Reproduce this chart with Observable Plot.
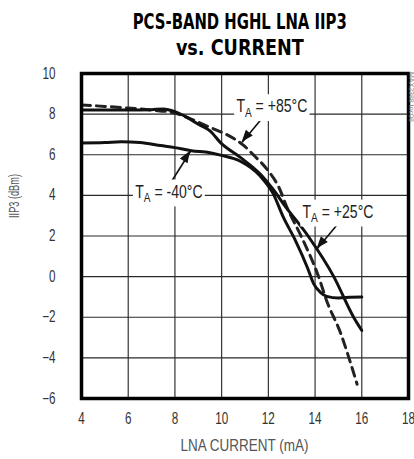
<!DOCTYPE html>
<html><head><meta charset="utf-8">
<script src="https://cdn.jsdelivr.net/npm/d3@7"></script>
<script src="https://cdn.jsdelivr.net/npm/@observablehq/plot@0.6"></script>
<style>
html,body{margin:0;padding:0;background:#fff;}
body{width:414px;height:459px;overflow:hidden;position:relative;}
.tl{position:absolute;left:33px;width:414px;height:20px;text-align:center;white-space:nowrap;
 font-family:"DejaVu Sans Condensed","Liberation Sans",sans-serif;font-weight:bold;font-size:22px;line-height:20px;color:#000;}
.tl span{display:inline-block;transform-origin:50% 50%;line-height:20px;}
#chart{position:absolute;left:0;top:60px;}
</style></head>
<body>
<div class="tl" id="t1" style="top:12px"><span>PCS-BAND HGHL LNA IIP3</span></div>
<div class="tl" id="t2" style="top:38px"><span>vs. CURRENT</span></div>
<div id="chart"></div>
<script>
// ---- data ----
const xTicks = [4, 6, 8, 10, 12, 14, 16, 18];
const yTicks = [-6, -4, -2, 0, 2, 4, 6, 8, 10];

const currentM40 = [4, 5, 5.7, 6.5, 7.4, 8.0, 8.7, 9.5, 9.95, 10.8, 11.65, 12.2, 12.65, 13.15, 13.67, 13.93, 14.25, 14.5, 15.0, 15.5, 16.0];
const iip3M40    = [6.58, 6.6, 6.64, 6.6, 6.45, 6.35, 6.2, 6.1, 5.98, 5.68, 4.95, 4.1, 2.9, 1.8, 0.45, -0.33, -0.8, -0.97, -1.05, -1.02, -1.0];

const currentP25 = [4, 5, 6, 7, 7.5, 8, 8.5, 9, 9.5, 9.95, 10.8, 11.65, 12.2, 12.7, 13.7, 14.8, 15.65, 16.0];
const iip3P25    = [8.2, 8.2, 8.2, 8.22, 8.25, 8.12, 7.85, 7.5, 7.18, 6.6, 5.87, 5.05, 4.3, 3.5, 2.0, 0.0, -2.0, -2.65];

const currentP85 = [4, 5, 6, 7, 8, 8.7, 9.5, 10.2, 10.9, 11.4, 12.0, 12.45, 12.8, 13.4, 14.15, 14.5, 15.1, 15.45, 15.8];
const iip3P85    = [8.45, 8.38, 8.3, 8.2, 8.05, 7.75, 7.35, 7.0, 6.5, 5.95, 5.2, 4.4, 3.4, 2.0, 0.0, -1.2, -2.8, -4.0, -5.3];

const labelNames = ["-40°C", "+85°C", "+25°C"];
const labelX = [7.74, 12.15, 14.98];
const labelY = [4.19, 8.39, 3.2];
const arrowFromX = [7.88, 11.75, 15.0];
const arrowFromY = [4.73, 7.82, 2.63];
const arrowToX = [8.67, 10.88, 14.09];
const arrowToY = [6.17, 6.61, 1.37];

const xLabel = "LNA CURRENT (mA)";
const yLabel = "IIP3 (dBm)";
const sideNote = "MAX2388 toc08";

// ---- build ----
const toRows = (xs, ys) => xs.map((x, i) => ({x, y: ys[i]}));
const m40 = toRows(currentM40, iip3M40);
const p25 = toRows(currentP25, iip3P25);
const p85 = toRows(currentP85, iip3P85);
const labels = labelNames.map((t, i) => ({t, x: labelX[i], y: labelY[i]}));
const arrows = labelNames.map((t, i) => ({x1: arrowFromX[i], y1: arrowFromY[i], x2: arrowToX[i], y2: arrowToY[i]}));

const FONT = '"Liberation Sans",Arial,sans-serif';

const plot = Plot.plot({
  width: 414, height: 399,
  marginTop: 13, marginBottom: 61, marginLeft: 81, marginRight: 6,
  x: {domain: [4, 18], ticks: xTicks, label: null},
  y: {domain: [-6, 10], ticks: yTicks, label: null},
  style: {fontFamily: FONT, fontSize: "16px", color: "#333", background: "white"},
  marks: [
    Plot.gridX(xTicks, {stroke: "#2a2a2a", strokeOpacity: 1, strokeWidth: 1.15}),
    Plot.gridY(yTicks, {stroke: "#2a2a2a", strokeOpacity: 1, strokeWidth: 1.15}),
    Plot.axisX(xTicks, {tickSize: 0, tickPadding: 14, label: null, fontSize: 16, fill: "#333"}),
    Plot.axisY(yTicks, {tickSize: 0, tickPadding: 26, label: null, fontSize: 16, fill: "#333"}),
    Plot.line(p85, {x: "x", y: "y", stroke: "#222", strokeWidth: 3, strokeDasharray: "9,6", curve: "monotone-x"}),
    Plot.line(p25, {x: "x", y: "y", stroke: "#111", strokeWidth: 3, curve: "monotone-x"}),
    Plot.line(m40, {x: "x", y: "y", stroke: "#111", strokeWidth: 3, curve: "monotone-x"}),
    Plot.link(arrows, {x1: "x1", y1: "y1", x2: "x2", y2: "y2", stroke: "#111", strokeWidth: 1.6}),
    Plot.text(labels, {x: "x", y: "y", text: "t", fontSize: 19, fill: "#222"}),
    Plot.frame({stroke: "#000", strokeWidth: 3.5})
  ]
});
document.getElementById("chart").appendChild(plot);

const svg = d3.select(plot);
const sx = plot.scale("x"), sy = plot.scale("y");
const squeeze = (node, k) => {
  const tr = node.getAttribute("transform") || "";
  node.setAttribute("transform", (tr + " scale(" + k + ",1)").trim());
};

// tick labels: condensed look
svg.selectAll('g[aria-label="x-axis tick label"] text, g[aria-label="y-axis tick label"] text').each(function () { squeeze(this, 0.73); });

// arrow heads (filled)
arrows.forEach(a => {
  const x1 = sx.apply(a.x1), y1 = sy.apply(a.y1), x2 = sx.apply(a.x2), y2 = sy.apply(a.y2);
  const dx = x2 - x1, dy = y2 - y1, L = Math.hypot(dx, dy);
  const ux = dx / L, uy = dy / L, nx = -uy, ny = ux;
  const hl = 12, hw = 4.5;
  const pts = [[x2, y2], [x2 - hl * ux + hw * nx, y2 - hl * uy + hw * ny], [x2 - hl * ux - hw * nx, y2 - hl * uy - hw * ny]];
  svg.append("polygon").attr("points", pts.map(p => p.join(",")).join(" ")).attr("fill", "#111");
});

// labels with subscript and white knockout
svg.selectAll('g[aria-label="text"] text').each(function () {
  const t = d3.select(this);
  const rest = this.textContent;
  t.text(null);
  t.append("tspan").text("T");
  t.append("tspan").attr("font-size", "0.72em").attr("dy", "0.32em").text("A");
  t.append("tspan").attr("dy", "-0.23em").text(" = " + rest);
  squeeze(this, 0.74);
  const bb = this.getBBox();
  const tr = this.getAttribute("transform");
  const r = d3.select(this.parentNode).insert("rect", () => this)
    .attr("x", bb.x - 3).attr("y", bb.y - 1).attr("width", bb.width + 6).attr("height", bb.height + 2)
    .attr("fill", "white");
  if (tr) r.attr("transform", tr);
});

// axis titles
const addText = (txt, tr, size, fill, target) => {
  const el = svg.append("text").attr("text-anchor", "middle").attr("dominant-baseline", "middle")
    .attr("font-family", FONT).attr("font-size", size).attr("fill", fill).text(txt);
  const w = el.node().getBBox().width;
  el.attr("transform", tr + (target ? " scale(" + (target / w) + ",1)" : ""));
  return el;
};
addText(xLabel, "translate(244.5,387)", 16, "#555", 128);
addText(yLabel, "translate(15,136) rotate(-90)", 14, "#555", 44);
svg.append("text").attr("transform", "translate(411,12) rotate(90)").attr("text-anchor", "start").attr("dominant-baseline", "middle")
  .attr("font-family", FONT).attr("font-size", 7).attr("fill", "#888").text(sideNote);

// condense title lines to target widths
[["t1", 214], ["t2", 128]].forEach(([id, w]) => {
  const s = document.querySelector("#" + id + " span");
  const k = w / s.getBoundingClientRect().width;
  s.style.transform = "scaleX(" + k + ")";
});
</script>
</body></html>
